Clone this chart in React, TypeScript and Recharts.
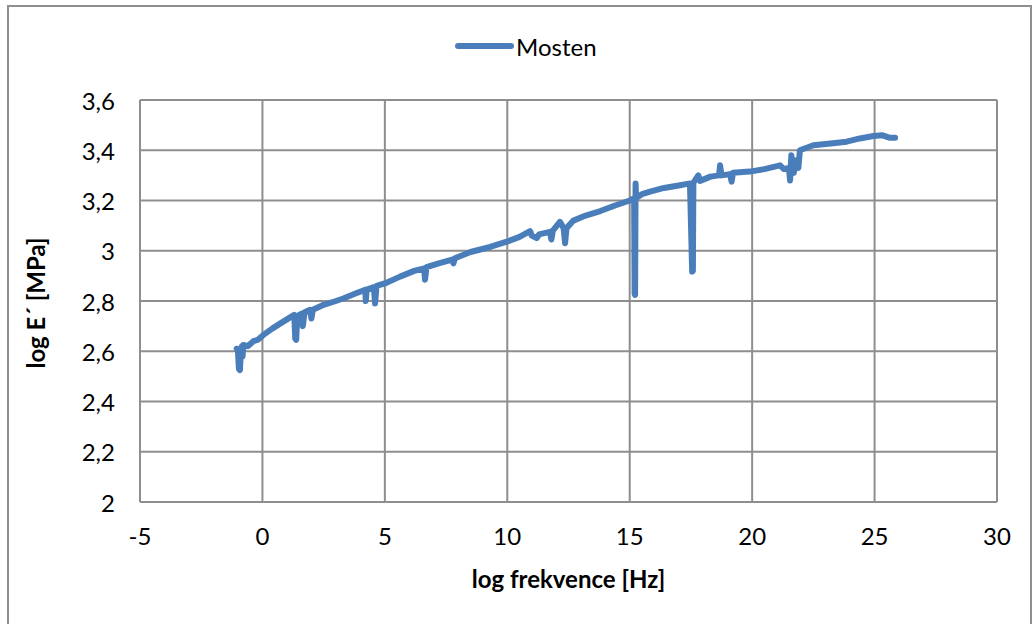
import { LineChart, Line, XAxis, YAxis, CartesianGrid, Label } from 'recharts';

// měřená data: log frekvence [Hz] a log E´ [MPa]
const logFreq = [
  -1.05, -1.0, -0.96, -0.92, -0.88, -0.84, -0.81, -0.78, -0.6, -0.37, -0.2, 0.04, 0.4, 0.72, 1.05, 1.3,
  1.34, 1.38, 1.42, 1.6, 1.65, 1.72, 1.95, 2.0, 2.06, 2.5, 3.0, 3.3, 3.8, 4.2, 4.22, 4.26, 4.55, 4.6,
  4.66, 5.0, 5.62, 6.2, 6.6, 6.64, 6.7, 7.2, 7.75, 7.8, 7.86, 8.5, 9.3, 9.98, 10.5, 10.93, 11.0, 11.2,
  11.3, 11.74, 11.8, 11.86, 12.15, 12.3, 12.36, 12.42, 12.7, 13.2, 13.8, 14.4, 15.0, 15.18, 15.2, 15.22,
  15.24, 15.26, 15.5, 15.83, 16.4, 17.0, 17.46, 17.55, 17.58, 17.6, 17.8, 17.87, 18.3, 18.65, 18.69,
  18.75, 19.1, 19.16, 19.22, 19.9, 20.5, 21.14, 21.3, 21.5, 21.55, 21.6, 21.7, 21.8, 21.89, 21.95, 22.5,
  23.2, 23.86, 24.4, 24.95, 25.3, 25.6, 25.84,
];
const logModulus = [
  2.61, 2.6, 2.53, 2.525, 2.6, 2.62, 2.58, 2.625, 2.62, 2.64, 2.645, 2.665, 2.69, 2.71, 2.73, 2.745,
  2.65, 2.645, 2.74, 2.75, 2.7, 2.755, 2.765, 2.73, 2.765, 2.785, 2.8, 2.81, 2.83, 2.845, 2.8, 2.845, 2.855, 2.79,
  2.86, 2.87, 2.897, 2.92, 2.93, 2.885, 2.935, 2.95, 2.965, 2.95, 2.97, 2.995, 3.015, 3.036, 3.055, 3.078, 3.06, 3.05,
  3.065, 3.075, 3.045, 3.08, 3.115, 3.09, 3.03, 3.09, 3.12, 3.14, 3.158, 3.18, 3.2, 3.21, 2.83, 2.824,
  3.268, 3.21, 3.225, 3.235, 3.25, 3.26, 3.268, 2.917, 2.92, 3.27, 3.3, 3.278, 3.295, 3.3, 3.34,
  3.3, 3.305, 3.275, 3.31, 3.315, 3.325, 3.34, 3.325, 3.33, 3.28, 3.38, 3.31, 3.36, 3.33, 3.4, 3.42,
  3.427, 3.434, 3.447, 3.457, 3.46, 3.45, 3.45,
];

const xTicks = [-5, 0, 5, 10, 15, 20, 25, 30];
const yTicks = [2, 2.2, 2.4, 2.6, 2.8, 3, 3.2, 3.4, 3.6];

const seriesName = 'Mosten';
const lineColor = '#4a7ebb';
const gridColor = '#8e8e8e';
const font = 'Lato, "Noto Sans", sans-serif';

const data = logFreq.map((f, i) => ({ f, e: logModulus[i] }));

const fmt = (v: number) => String(Math.round(v * 10) / 10).replace('.', ',');

const XTick = (props: any) => {
  const { x, y, payload } = props;
  return (
    <text x={x} y={y + 25} textAnchor="middle" dominantBaseline="central" fontSize={24} fill="#000" fontFamily={font}>
      {fmt(payload.value)}
    </text>
  );
};

const YTick = (props: any) => {
  const { y, payload } = props;
  return (
    <text x={115} y={y} textAnchor="end" dominantBaseline="central" fontSize={24} fill="#000" fontFamily={font}>
      {fmt(payload.value)}
    </text>
  );
};

const YTitle = (props: any) => {
  const vb = props.viewBox;
  const cx = 35;
  const cy = vb.y + vb.height / 2 + 2;
  return (
    <text
      x={cx}
      y={cy}
      transform={`rotate(-90 ${cx} ${cy})`}
      textAnchor="middle"
      dominantBaseline="central"
      fontSize={24}
      fontWeight="bold"
      fill="#000"
      fontFamily={font}
    >
      log E´ [MPa]
    </text>
  );
};

const XTitle = (props: any) => {
  const vb = props.viewBox;
  const cx = vb.x + vb.width / 2;
  return (
    <text x={cx} y={578} textAnchor="middle" dominantBaseline="central" fontSize={24} fontWeight="bold" fill="#000" fontFamily={font}>
      log frekvence [Hz]
    </text>
  );
};

export default function App() {
  return (
    <div style={{ position: 'absolute', left: 0, top: 0, width: 1033, height: 624, overflow: 'hidden', background: '#fff' }}>
      <div
        style={{
          position: 'absolute',
          left: 7,
          top: 5,
          width: 1021,
          height: 640,
          border: `2px solid ${gridColor}`,
        }}
      />
      <div style={{ position: 'absolute', left: 0, top: 0 }}>
        <LineChart width={1033} height={624} data={data} margin={{ top: 100, right: 36, left: 0, bottom: 0 }}>
          <CartesianGrid stroke={gridColor} strokeWidth={2} horizontalValues={yTicks} verticalValues={xTicks} />
          <XAxis
            type="number"
            dataKey="f"
            domain={[-5, 30]}
            ticks={xTicks}
            axisLine={false}
            tickLine={false}
            tick={<XTick />}
            height={122}
            interval={0}
          >
            <Label content={<XTitle />} />
          </XAxis>
          <YAxis
            type="number"
            domain={[2, 3.6]}
            ticks={yTicks}
            axisLine={false}
            tickLine={false}
            tick={<YTick />}
            width={140}
            interval={0}
          >
            <Label content={<YTitle />} />
          </YAxis>
          <Line
            dataKey="e"
            name={seriesName}
            type="linear"
            stroke={lineColor}
            strokeWidth={6}
            strokeLinejoin="round"
            strokeLinecap="round"
            dot={false}
            isAnimationActive={false}
          />
        </LineChart>
      </div>
      <div style={{ position: 'absolute', left: 455, top: 30, height: 32, display: 'flex', alignItems: 'center' }}>
        <svg width={60} height={10}>
          <line x1={3} y1={5} x2={56} y2={5} stroke={lineColor} strokeWidth={6} strokeLinecap="round" />
        </svg>
        <span style={{ fontFamily: font, fontSize: 24, color: '#000', marginLeft: 1 }}>{seriesName}</span>
      </div>
    </div>
  );
}
